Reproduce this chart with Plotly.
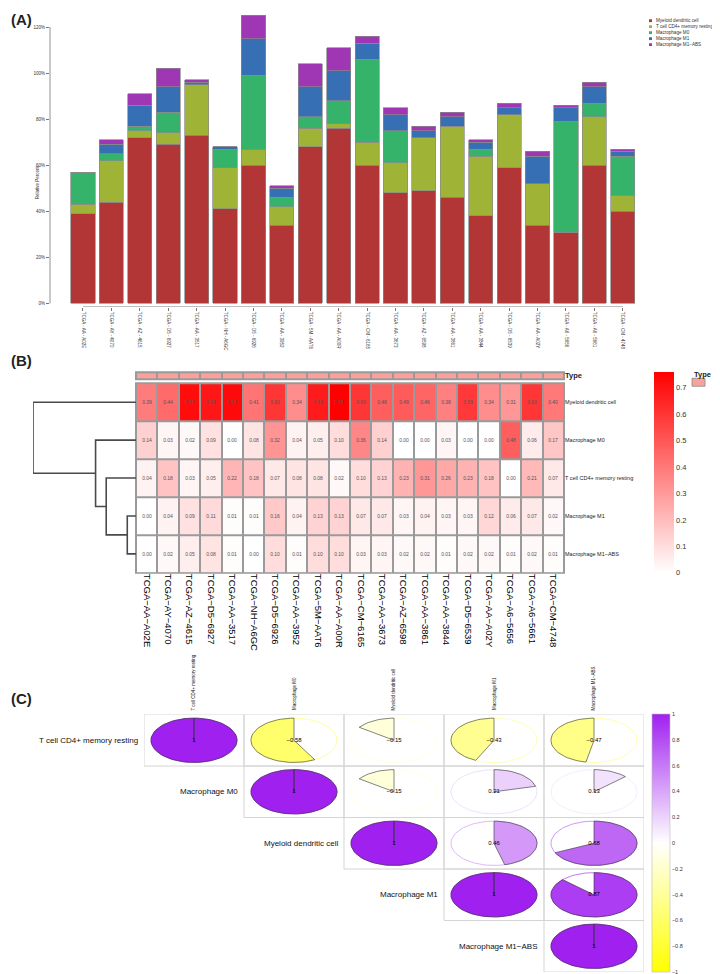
import math
import plotly.graph_objects as go

W, H = 720, 974
FONT = "Liberation Sans, Arial, sans-serif"


def px(x):
    return x / W


def py(y):
    return 1 - y / H


# ---- data ----
sample_ids = [
    "TCGA-AA-A02E", "TCGA-AY-4070", "TCGA-AZ-4615", "TCGA-D5-6927", "TCGA-AA-3517",
    "TCGA-NH-A6GC", "TCGA-D5-6926", "TCGA-AA-3952", "TCGA-5M-AAT6", "TCGA-AA-A00R",
    "TCGA-CM-6165", "TCGA-AA-3673", "TCGA-AZ-6598", "TCGA-AA-3861", "TCGA-AA-3844",
    "TCGA-D5-6539", "TCGA-AA-A02Y", "TCGA-A6-5656", "TCGA-A6-5661", "TCGA-CM-4748",
]

# relative fractions per sample
myeloid = [0.39, 0.44, 0.72, 0.69, 0.73, 0.41, 0.60, 0.34, 0.68, 0.76,
           0.60, 0.48, 0.49, 0.46, 0.38, 0.59, 0.34, 0.31, 0.60, 0.40]
tcell = [0.04, 0.18, 0.03, 0.05, 0.22, 0.18, 0.07, 0.08, 0.08, 0.02,
         0.10, 0.13, 0.23, 0.31, 0.26, 0.23, 0.18, 0.00, 0.21, 0.07]
m0 = [0.14, 0.03, 0.02, 0.09, 0.00, 0.08, 0.32, 0.04, 0.05, 0.10,
      0.36, 0.14, 0.00, 0.00, 0.03, 0.00, 0.00, 0.48, 0.06, 0.17]
m1 = [0.00, 0.04, 0.09, 0.11, 0.01, 0.01, 0.16, 0.04, 0.13, 0.13,
      0.07, 0.07, 0.03, 0.04, 0.03, 0.03, 0.12, 0.06, 0.07, 0.02]
m1_abs = [0.00, 0.02, 0.05, 0.08, 0.01, 0.00, 0.10, 0.01, 0.10, 0.10,
          0.03, 0.03, 0.02, 0.02, 0.01, 0.02, 0.02, 0.01, 0.02, 0.01]

bar_types = ["Myeloid dendritic cell", "T cell CD4+ memory resting",
             "Macrophage M0", "Macrophage M1", "Macrophage M1\u2212ABS"]
bar_values = [myeloid, tcell, m0, m1, m1_abs]
bar_colors = ["#B33636", "#9FB336", "#36B36B", "#366FB3", "#9F36B3"]
pct_ticks = [0, 20, 40, 60, 80, 100, 120]

heat_rows = ["Myeloid dendritic cell", "Macrophage M0", "T cell CD4+ memory resting",
             "Macrophage M1", "Macrophage M1\u2212ABS"]
heat_z = [myeloid, m0, tcell, m1, m1_abs]
heat_ticks = [0, 0.1, 0.2, 0.3, 0.4, 0.5, 0.6, 0.7]

# row dendrogram, scipy-like: leaves 0..4, new clusters numbered 5..
dend_merges = [(3, 4, 8.7), (2, 5, 29.7), (1, 6, 40.3), (0, 7, 102.7)]

corr_labels = ["T cell CD4+ memory resting", "Macrophage M0", "Myeloid dendritic cell",
               "Macrophage M1", "Macrophage M1\u2212ABS"]
corr_upper = [
    [1, -0.58, -0.15, -0.43, -0.47],
    [None, 1, -0.15, 0.21, 0.13],
    [None, None, 1, 0.46, 0.68],
    [None, None, None, 1, 0.87],
    [None, None, None, None, 1],
]
corr_ticks = [-1, -0.8, -0.6, -0.4, -0.2, 0, 0.2, 0.4, 0.6, 0.8, 1]
corr_scale = [[0, "#FFFF00"], [0.5, "#FFFFFF"], [1, "#A020F0"]]

# panel C grid placement (pixels)
C_LEFT, C_RIGHT, C_TOP, C_BOTTOM = 136, 636, 707, 965
C_CELL_W = (C_RIGHT - C_LEFT) / 5

fig = go.Figure()

# ---- (A) stacked bars ----
xs = list(range(len(sample_ids)))
for name, vals, col in zip(bar_types, bar_values, bar_colors):
    fig.add_trace(go.Bar(
        x=xs, y=[v * 100 for v in vals], name=name,
        marker=dict(color=col, line=dict(color="#8a8a8a", width=0.7)),
        xaxis="x", yaxis="y", showlegend=False,
    ))

# ---- (B) heatmap ----
fig.add_trace(go.Heatmap(
    z=heat_z, x=xs, y=list(range(len(heat_rows))),
    colorscale=[[0, "#FFFFFF"], [1, "#FF0000"]],
    zmin=0, zmax=max(max(r) for r in heat_z),
    xgap=2, ygap=2,
    texttemplate="%{z:.2f}", textfont=dict(size=5, color="#555555", family=FONT),
    colorbar=dict(x=px(646), xanchor="left", y=py(565), yanchor="bottom",
                  lenmode="pixels", len=201, thicknessmode="pixels", thickness=20,
                  tickvals=heat_ticks, ticktext=[f"{t:g}" for t in heat_ticks],
                  tickfont=dict(size=7.5, color="#333333", family=FONT),
                  outlinewidth=0, xpad=0, ypad=0, ticks=""),
    xaxis="x2", yaxis="y2", hoverinfo="skip",
))
fig.add_trace(go.Heatmap(
    z=[[1] * len(xs)], x=xs, y=[0],
    colorscale=[[0, "#F7A29C"], [1, "#F7A29C"]], showscale=False,
    xgap=2, ygap=2, xaxis="x3", yaxis="y3", hoverinfo="skip",
))

# dendrogram segments
pos = {i: float(i) for i in range(len(heat_rows))}
hgt = {i: 0.0 for i in range(len(heat_rows))}
dx, dy = [], []
for k, (a, b, h) in enumerate(dend_merges):
    cid = len(heat_rows) + k
    dx += [hgt[a], h, h, hgt[b], None]
    dy += [pos[a], pos[a], pos[b], pos[b], None]
    pos[cid] = (pos[a] + pos[b]) / 2
    hgt[cid] = h
fig.add_trace(go.Scatter(x=dx, y=dy, mode="lines", line=dict(color="#4a4a4a", width=1.6),
                         xaxis="x4", yaxis="y4", showlegend=False, hoverinfo="skip"))


# ---- (C) correlation pies ----
def interp(hex1, hex2, t):
    c1 = [int(hex1[i:i + 2], 16) for i in (1, 3, 5)]
    c2 = [int(hex2[i:i + 2], 16) for i in (1, 3, 5)]
    return "rgb({},{},{})".format(*[round(a + (b - a) * t) for a, b in zip(c1, c2)])


def corr_color(r):
    if r < 0:
        return interp("#FFFFFF", "#FFFF00", -r)
    return interp("#FFFFFF", "#A020F0", r)


R = 0.43
cx_all, cy_all, cv_all, ct_all = [], [], [], []
for i, row in enumerate(corr_upper):
    for j, r in enumerate(row):
        if r is None:
            continue
        cx, cy = j + 1, i + 1
        col = corr_color(r)
        ex = [cx + R * math.cos(2 * math.pi * t / 80) for t in range(81)]
        ey = [cy - R * math.sin(2 * math.pi * t / 80) for t in range(81)]
        fig.add_trace(go.Scatter(x=ex, y=ey, mode="lines", line=dict(color=col, width=0.7),
                                 xaxis="x5", yaxis="y5", showlegend=False, hoverinfo="skip"))
        n = max(2, int(abs(r) * 80))
        sign = -1 if r > 0 else 1
        ang = [math.pi / 2 + sign * abs(r) * 2 * math.pi * t / n for t in range(n + 1)]
        wx = [cx] + [cx + R * math.cos(a) for a in ang] + [cx]
        wy = [cy] + [cy - R * math.sin(a) for a in ang] + [cy]
        fig.add_trace(go.Scatter(x=wx, y=wy, mode="lines", fill="toself", fillcolor=col,
                                 line=dict(color="#333333", width=0.6),
                                 xaxis="x5", yaxis="y5", showlegend=False, hoverinfo="skip"))
        cx_all.append(cx)
        cy_all.append(cy)
        cv_all.append(r)
        ct_all.append("1" if r == 1 else f"{r:.2f}".replace("-", "\u2212"))

fig.add_trace(go.Scatter(
    x=cx_all, y=cy_all, mode="markers+text", text=ct_all,
    textfont=dict(size=6, color="black", family=FONT), textposition="middle center",
    marker=dict(size=2, opacity=0, color=cv_all, colorscale=corr_scale, cmin=-1, cmax=1,
                showscale=True,
                colorbar=dict(x=px(644), xanchor="left", y=py(C_BOTTOM), yanchor="bottom",
                              lenmode="pixels", len=C_BOTTOM - C_TOP, thicknessmode="pixels",
                              thickness=18, tickvals=corr_ticks,
                              ticktext=[f"{t:g}".replace("-", "\u2212") for t in corr_ticks],
                              tickfont=dict(size=5.5, color="#333333", family=FONT),
                              outlinewidth=0.6, outlinecolor="#BBBBBB", xpad=0, ypad=0, ticks="")),
    xaxis="x5", yaxis="y5", showlegend=False, hoverinfo="skip",
))

# ---- shapes & annotations ----
shapes = [
    # panel A axis lines (R style)
    dict(type="line", xref="paper", yref="y", x0=px(42), x1=px(42), y0=0, y1=120,
         line=dict(color="#777777", width=0.8)),
    dict(type="line", xref="x", yref="y", x0=0, x1=len(xs) - 1, y0=-1.5, y1=-1.5,
         line=dict(color="#777777", width=0.8)),
    # heatmap cell borders
    dict(type="rect", xref="paper", yref="paper", x0=px(127), x1=px(557), y0=py(566), y1=py(374),
         fillcolor="#9A9A9A", line=dict(width=0), layer="below"),
    dict(type="rect", xref="paper", yref="paper", x0=px(127), x1=px(557), y0=py(372), y1=py(363),
         fillcolor="#9A9A9A", line=dict(width=0), layer="below"),
    # Type legend key
    dict(type="rect", xref="paper", yref="paper", x0=px(684), x1=px(697), y0=py(378), y1=py(370),
         fillcolor="#F7A29C", line=dict(color="#888888", width=0.8)),
]
for i in range(5):
    for j in range(i, 5):
        shapes.append(dict(type="rect", xref="x5", yref="y5", x0=j + 0.5, x1=j + 1.5,
                           y0=i + 0.5, y1=i + 1.5, line=dict(color="#D5D5D5", width=1), layer="below"))

annotations = [
    dict(text="<b>(A)</b>", x=px(1), y=py(0), xanchor="left", yanchor="top", font=dict(size=15)),
    dict(text="<b>(B)</b>", x=px(1), y=py(342), xanchor="left", yanchor="top", font=dict(size=15)),
    dict(text="<b>(C)</b>", x=px(1), y=py(680), xanchor="left", yanchor="top", font=dict(size=15)),
    dict(text="Relative Percent", x=px(25), y=py(155), textangle=-90, font=dict(size=4.5, color="#333")),
    dict(text="<b>Type</b>", x=px(684), y=py(366), xanchor="left", yanchor="middle",
         font=dict(size=7.5, color="#222")),
]
for k, (name, col) in enumerate(zip(bar_types, bar_colors)):
    yk = 11.7 + 6 * k
    shapes.append(dict(type="rect", xref="paper", yref="paper", x0=px(641), x1=px(644),
                       y0=py(yk + 1.4), y1=py(yk - 1.4), fillcolor=col, line=dict(width=0)))
    annotations.append(dict(text=name, x=px(646), y=py(yk), xanchor="left", yanchor="middle",
                            font=dict(size=4.6, color="#333")))
for i, lab in enumerate(corr_labels):
    annotations.append(dict(text=lab, x=px(C_LEFT + i * C_CELL_W - 4), yref="y5", y=i + 1,
                            xanchor="right", yanchor="middle", font=dict(size=8, color="#111")))
    annotations.append(dict(text=lab, xref="x5", x=i + 1, y=py(C_TOP - 2),
                            textangle=-90, xanchor="center", yanchor="bottom",
                            font=dict(size=4.5, color="#111")))
for a in annotations:
    a.setdefault("xref", "paper")
    a.setdefault("yref", "paper")
    a["showarrow"] = False

hidden = dict(visible=False, showgrid=False, zeroline=False)
fig.update_layout(
    width=W, height=H, margin=dict(l=0, r=0, t=0, b=0),
    paper_bgcolor="white", plot_bgcolor="white",
    font=dict(family=FONT, color="#222"),
    barmode="stack", bargap=0.15, showlegend=False,
    xaxis=dict(domain=[px(42), px(629)], range=[-1.16, 19.5], tickvals=xs,
               ticktext=[s.replace("-", " - ") for s in sample_ids], tickangle=90,
               tickfont=dict(size=4.5, color="#333"), ticks="outside", ticklen=3,
               tickcolor="#777", showgrid=False, zeroline=False, showline=False, anchor="y"),
    yaxis=dict(domain=[py(298.5), py(4.2)], range=[-1.5, 126], tickvals=pct_ticks,
               ticktext=[f"{t}%" for t in pct_ticks], tickfont=dict(size=4.5, color="#333"),
               ticks="outside", ticklen=3, tickcolor="#777", showgrid=False, zeroline=False,
               showline=False, anchor="x"),
    xaxis2=dict(domain=[px(128), px(556)], range=[-0.5, 19.5], tickvals=xs,
                ticktext=[s.replace("-", "\u2212") for s in sample_ids], tickangle=90,
                tickfont=dict(size=9.5, color="black"), showgrid=False, zeroline=False,
                ticks="", anchor="y2"),
    yaxis2=dict(domain=[py(565), py(375)], range=[4.5, -0.5], tickvals=list(range(5)),
                ticktext=heat_rows, side="right", tickfont=dict(size=5.5, color="#222"),
                showgrid=False, zeroline=False, ticks="", anchor="x2"),
    xaxis3=dict(domain=[px(128), px(556)], range=[-0.5, 19.5], showticklabels=False,
                showgrid=False, zeroline=False, anchor="y3"),
    yaxis3=dict(domain=[py(371), py(364)], range=[0.5, -0.5], tickvals=[0],
                ticktext=["<b>Type</b>"], side="right", tickfont=dict(size=7.5, color="#222"),
                showgrid=False, zeroline=False, ticks="", anchor="x3"),
    xaxis4=dict(domain=[px(25), px(128)], range=[102.7, 0], anchor="y4", **hidden),
    yaxis4=dict(domain=[py(565), py(375)], range=[4.5, -0.5], anchor="x4", **hidden),
    xaxis5=dict(domain=[px(C_LEFT), px(C_RIGHT)], range=[0.5, 5.5], anchor="y5", **hidden),
    yaxis5=dict(domain=[py(C_BOTTOM), py(C_TOP)], range=[5.5, 0.5], anchor="x5", **hidden),
    shapes=shapes, annotations=annotations,
)

fig.write_html("out.html")
